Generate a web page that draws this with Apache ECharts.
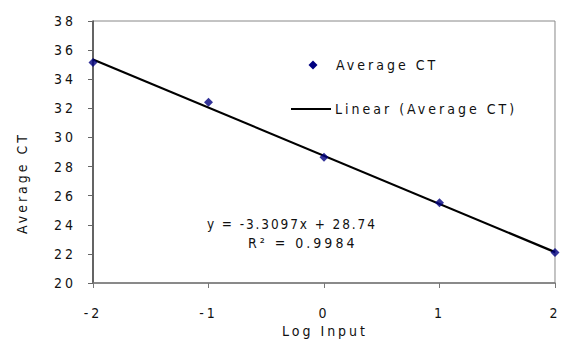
<!DOCTYPE html>
<html>
<head>
<meta charset="utf-8">
<script src="https://cdn.jsdelivr.net/npm/echarts@6/dist/echarts.min.js"></script>
<style>
html,body{margin:0;padding:0;background:#fff;}
#main{width:562px;height:349px;}
#main text{letter-spacing:3px;}
#main text[style*="13.5px"]{letter-spacing:1.9px;}
</style>
</head>
<body>
<div id="main"></div>
<script>
var logInput = [-2, -1, 0, 1, 2];
var averageCT = [35.15, 32.42, 28.64, 25.52, 22.09];
var trendSlope = [-3.3097];
var trendIntercept = [28.74];
var yTicks = [20, 22, 24, 26, 28, 30, 32, 34, 36, 38];
var xTicks = [-2, -1, 0, 1, 2];
var legendNames = ['Average CT', 'Linear (Average CT)'];

var FONT = '"Liberation Sans Narrow","DejaVu Sans Condensed","Liberation Sans",sans-serif';
var trendData = [xTicks[0], xTicks[xTicks.length - 1]].map(function (x) {
  return [x, trendSlope[0] * x + trendIntercept[0]];
});

var chart = echarts.init(document.getElementById('main'), null, {renderer: 'svg'});
chart.setOption({
  animation: false,
  backgroundColor: '#fff',
  textStyle: {fontFamily: FONT},
  grid: {left: 93, right: 4, top: 21, bottom: 66, show: true, borderColor: '#888', borderWidth: 1},
  xAxis: {
    type: 'value', min: xTicks[0], max: xTicks[xTicks.length - 1], interval: 1,
    axisLine: {onZero: false, lineStyle: {color: '#777', width: 1.5}},
    axisTick: {show: true, length: 5, lineStyle: {color: '#777'}},
    axisLabel: {margin: 23, fontSize: 14, color: '#111', fontFamily: FONT},
    splitLine: {show: false}
  },
  yAxis: {
    type: 'value', min: yTicks[0], max: yTicks[yTicks.length - 1], interval: 2,
    axisLine: {show: true, onZero: false, lineStyle: {color: '#444', width: 1.5}},
    axisTick: {show: true, length: 5, lineStyle: {color: '#666'}},
    axisLabel: {margin: 17, fontSize: 14, color: '#111', fontFamily: FONT},
    splitLine: {show: false}
  },
  series: [
    {
      name: legendNames[1], type: 'line',
      data: trendData, symbol: 'none',
      lineStyle: {color: '#000', width: 2.2},
      itemStyle: {color: '#000'}, z: 2
    },
    {
      name: legendNames[0], type: 'scatter',
      data: logInput.map(function (x, i) { return [x, averageCT[i]]; }),
      symbol: 'diamond', symbolSize: 9,
      itemStyle: {color: '#000080'}, z: 3
    }
  ],
  graphic: [
    {type: 'text', x: 22, y: 183, rotation: Math.PI / 2,
     style: {text: 'Average CT', fontFamily: FONT, fontSize: 14, fill: '#111', align: 'center', verticalAlign: 'middle'}},
    {type: 'text', x: 325, y: 331,
     style: {text: 'Log Input', fontFamily: FONT, fontSize: 14, fill: '#111', align: 'center', verticalAlign: 'middle'}},
    {type: 'text', x: 207, y: 224,
     style: {text: 'y = -3.3097x + 28.74', fontFamily: FONT, fontSize: 13.5, fill: '#111', align: 'left', verticalAlign: 'middle'}},
    {type: 'text', x: 248, y: 243,
     style: {text: 'R² = 0.9984', fontFamily: FONT, fontSize: 14, fill: '#111', align: 'left', verticalAlign: 'middle'}},
    {type: 'polygon', shape: {points: [[313, 60.5], [317.5, 65], [313, 69.5], [308.5, 65]]}, style: {fill: '#000080'}},
    {type: 'text', x: 336, y: 65,
     style: {text: legendNames[0], fontFamily: FONT, fontSize: 14, fill: '#111', align: 'left', verticalAlign: 'middle'}},
    {type: 'line', shape: {x1: 291, y1: 109, x2: 331, y2: 109}, style: {stroke: '#000', lineWidth: 2}},
    {type: 'text', x: 335, y: 109,
     style: {text: legendNames[1], fontFamily: FONT, fontSize: 14, fill: '#111', align: 'left', verticalAlign: 'middle'}}
  ]
});
</script>
</body>
</html>
